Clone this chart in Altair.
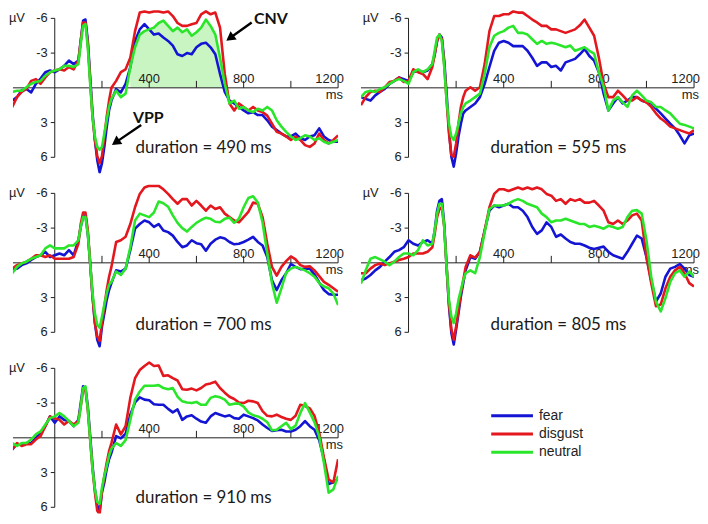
import altair as alt
import pandas as pd

# ---------------- data ----------------
times = [-200, -180, -160, -140, -120, -100, -80, -60, -40, -20,
         0, 20, 40, 60, 80,
         100, 110, 120, 130, 140, 150, 160, 170, 180, 190, 200, 210, 220, 230,
         240, 260, 280, 300, 320, 340, 360, 380,
         400, 420, 440, 460, 480, 500, 520, 540, 560, 580,
         600, 620, 640, 660, 680, 700, 720, 740, 760, 780,
         800, 820, 840, 860, 880, 900, 920, 940, 960, 980,
         1000, 1020, 1040, 1060, 1080, 1100, 1120, 1140, 1160, 1180,
         1200]

emotions = ["fear", "disgust", "neutral"]
legend_rank = [0, 1, 2]
line_colors = ["#1414d4", "#e3171d", "#2ae62a"]
durations = ["duration = 490 ms", "duration = 595 ms", "duration = 700 ms",
             "duration = 805 ms", "duration = 910 ms"]
duration_v = [5.6, 5.6, 5.8, 5.8, 5.65]

x_tick_values = [200, 400, 600, 800, 1000, 1200]
x_label_values = [400, 800]
x_last_label = [1200]
y_tick_values = [-6, -3, 3, 6]
y_unit = "µV"
x_unit = "ms"

p1_fear = [0.95, 1.1, 0.8, 0.2, 0.1, 0.4, -0.35, -0.8, -1.35, -1.5,
           -1.35, -1.6, -1.9, -2.35, -2.05,
           -2.35, -4.05, -5.8, -5.9, -4.05, -0.9, 2.2, 4.5, 6.25, 7.3, 6.5, 5.1, 3.4, 1.95,
           1.1, 0.1, 0.4, -0.35, -1.8, -4.05, -5.05, -5.5,
           -5.05, -4.6, -4.7, -4.35, -4.05, -3.65, -2.9, -2.75, -3.0, -2.9,
           -3.5, -3.8, -3.9, -3.5, -2.9, -1.2, 0.35, 1.1, 1.35, 1.65,
           1.95, 2.2, 2.1, 2.35, 2.35, 2.8, 3.35, 3.65, 3.95, 4.2,
           4.2, 3.95, 4.35, 4.5, 4.2, 4.1, 3.5, 4.2, 4.5, 4.65,
           4.65]
p1_disgust = [1.25, 1.65, 0.8, 0.35, 0.1, -0.6, -0.75, -0.35, -0.9, -1.35,
              -1.5, -1.6, -1.5, -1.8, -1.6,
              -2.35, -4.05, -5.65, -5.65, -3.8, -0.6, 2.5, 4.5, 5.9, 6.5, 5.9, 4.2, 2.5, 1.1,
              0.0, -0.6, -1.35, -1.6, -2.6, -4.9, -6.5, -6.6,
              -6.5, -6.6, -6.6, -6.5, -6.6, -6.2, -5.6, -5.35, -5.35, -5.5,
              -5.6, -6.35, -6.6, -6.35, -6.5, -5.2, -1.2, 1.35, 1.95, 1.35,
              1.65, 1.95, 1.65, 1.95, 2.1, 2.4, 3.1, 3.8, 3.95, 4.2,
              4.5, 4.2, 4.5, 4.95, 5.1, 4.8, 3.95, 4.5, 4.8, 4.5,
              4.1]
p1_neutral = [0.8, 0.35, 0.25, 0.25, -0.05, -0.35, -0.5, -0.6, -1.05, -1.35,
              -1.5, -1.6, -1.9, -1.9, -1.8,
              -2.05, -3.8, -5.35, -5.5, -3.5, -0.35, 2.5, 4.2, 5.1, 5.35, 5.1, 3.95, 2.8, 1.65,
              0.95, 0.25, 0.8, 0.5, -1.8, -3.5, -4.6, -4.9,
              -5.05, -5.2, -5.6, -5.8, -5.35, -4.9, -5.2, -4.8, -5.05, -4.5,
              -4.8, -5.2, -5.9, -5.35, -4.6, -2.6, -0.35, 1.35, 1.1, 1.8,
              1.65, 1.95, 2.1, 1.8, 1.95, 1.65, 1.95, 2.8, 3.35, 3.8,
              4.2, 4.5, 4.35, 4.1, 4.2, 4.5, 4.35, 4.65, 4.8, 4.65,
              4.5]

p2_fear = [0.8, 0.95, 1.1, 0.65, 0.35, 0.1, -0.35, -0.6, -0.9, -0.75,
           -0.6, -1.35, -1.5, -1.35, -1.5,
           -2.05, -2.9, -4.05, -4.6, -4.35, -2.35, 0.5, 3.65, 5.95, 6.8, 5.65, 4.2, 3.1, 2.2,
           1.95, 1.65, 1.35, 0.8, -0.35, -1.8, -3.2, -3.9,
           -4.05, -3.9, -3.6, -3.6, -3.6, -3.2, -2.6, -1.9, -2.2, -2.2,
           -1.8, -1.9, -1.5, -2.2, -2.35, -2.5, -2.9, -3.35, -2.75, -2.35,
           -1.35, 0.5, 1.95, 1.35, 0.8, 1.35, 1.1, 0.8, 0.8, 1.1,
           1.25, 1.35, 1.8, 2.2, 2.65, 3.1, 3.5, 4.1, 4.8, 4.1,
           3.95]
p2_disgust = [1.5, 0.8, 0.35, 0.25, 0.35, -0.05, -0.5, -0.6, -0.9, -0.5,
              -0.6, -1.6, -1.35, -1.2, -0.75,
              -1.8, -2.9, -4.05, -4.6, -4.2, -2.05, 1.1, 3.95, 5.8, 5.95, 4.8, 3.1, 1.65, 0.8,
              0.25, -0.05, 0.25, -0.05, -2.05, -4.9, -6.2, -6.2,
              -6.35, -6.35, -6.6, -6.5, -6.5, -6.2, -5.9, -5.65, -5.35, -5.35,
              -5.05, -5.05, -4.9, -4.75, -4.9, -5.05, -5.4, -5.9, -5.2, -4.5,
              -2.6, -0.35, 0.8, 0.8, 0.25, 0.65, 1.1, 1.1, 0.8, 1.1,
              1.25, 1.65, 2.2, 2.65, 2.95, 3.35, 3.5, 3.65, 3.8, 3.95,
              3.65]
p2_neutral = [0.8, 0.35, 0.25, 0.35, 0.1, -0.05, -0.35, -0.6, -0.75, -0.6,
              -0.35, -1.35, -1.6, -1.35, -1.6,
              -2.05, -3.2, -4.35, -4.6, -4.05, -1.8, 1.1, 3.1, 4.2, 4.5, 3.95, 3.1, 2.2, 1.65,
              1.35, 1.1, 0.8, 0.5, -1.2, -3.5, -4.5, -4.75,
              -4.9, -5.2, -5.35, -4.75, -4.75, -4.6, -4.2, -3.8, -4.05, -3.8,
              -3.9, -3.8, -3.65, -3.5, -3.65, -3.2, -3.35, -3.5, -3.2, -2.95,
              -1.35, -0.1, 1.95, 1.1, 0.8, 1.25, 1.65, 0.65, 0.25, 0.65,
              1.1, 1.25, 1.65, 1.65, 1.95, 2.2, 2.65, 3.1, 3.2, 3.35,
              3.5]

p3_fear = [0.75, 0.65, 0.5, 0.2, 0.05, -0.25, -0.5, -0.65, -0.95, -0.5,
           -0.65, -0.8, -0.65, -1.1, -0.65,
           -1.95, -3.1, -3.95, -4.1, -2.5, 0.05, 2.9, 5.2, 6.65, 7.2, 5.5, 4.35, 3.2, 2.35,
           1.75, 0.65, 0.75, 0.5, -1.1, -2.95, -3.35, -3.65,
           -3.5, -3.1, -3.35, -2.8, -2.65, -2.35, -1.8, -1.35, -1.5, -1.95,
           -1.7, -1.6, -1.05, -1.65, -2.0, -2.2, -2.1, -1.8, -1.6, -1.65,
           -1.8, -2.0, -2.25, -1.8, -1.5, -0.5, 1.5, 2.35, 1.5, 0.9,
           0.1, 0.35, 0.55, 0.5, 0.5, 1.0, 1.7, 2.35, 2.7, 2.75,
           2.75]
p3_disgust = [0.65, 0.5, 0.2, 0.05, -0.1, -0.35, -0.65, -0.65, -0.5, -0.65,
              -0.35, -0.35, -0.35, -0.35, -0.5,
              -1.65, -3.35, -4.35, -4.35, -2.8, 0.05, 2.9, 5.2, 6.35, 6.75, 5.2, 3.75, 2.35, 1.2,
              0.35, -1.8, -1.95, -2.25, -3.35, -4.8, -5.95, -6.5,
              -6.65, -6.65, -6.65, -6.35, -5.95, -5.5, -5.1, -5.5, -5.5, -4.95,
              -5.35, -4.95, -4.5, -4.95, -4.65, -4.8, -4.25, -3.95, -3.65, -3.5,
              -3.95, -4.4, -5.2, -5.1, -3.95, -1.65, 0.35, 1.1, 0.35, -0.15,
              -0.55, -0.3, 0.2, 0.35, 0.3, 0.65, 1.15, 1.65, 1.9, 2.2,
              2.5]
p3_neutral = [1.5, 0.9, 0.35, 0.05, -0.1, -0.35, -0.5, -0.65, -1.25, -1.5,
              -1.25, -1.25, -1.25, -1.5, -1.5,
              -1.95, -3.1, -3.95, -3.95, -2.5, 0.05, 2.65, 4.35, 5.35, 5.6, 4.65, 3.6, 2.65, 1.9,
              1.65, 0.75, 1.05, 0.5, -1.35, -3.65, -4.25, -4.1,
              -3.95, -4.35, -5.3, -5.15, -4.85, -4.1, -3.45, -3.0, -2.7, -3.1,
              -3.45, -3.7, -3.9, -3.8, -3.55, -3.5, -3.8, -3.9, -3.45, -3.8,
              -4.8, -5.6, -5.75, -5.2, -3.5, -0.8, 1.75, 3.45, 2.2, 0.85,
              0.5, 0.35, 0.5, 0.65, 0.9, 1.2, 1.75, 2.05, 2.2, 2.65,
              3.65]

p4_fear = [1.5, 1.35, 1.05, 0.65, 0.35, -0.1, -0.5, -0.95, -1.1, -1.35,
           -1.95, -1.65, -1.5, -1.8, -1.95,
           -1.65, -2.8, -4.5, -5.35, -5.5, -3.35, 0.35, 3.75, 6.05, 7.05, 5.75, 4.35, 2.9, 1.75,
           0.65, -0.5, -0.35, -0.95, -2.8, -4.5, -4.95, -4.8,
           -4.95, -5.1, -4.8, -4.8, -4.5, -3.95, -3.1, -2.5, -2.8, -3.5,
           -3.1, -2.25, -2.45, -2.1, -1.8, -1.65, -1.65, -1.5, -1.3, -1.2,
           -1.3, -1.4, -0.95, -0.65, -0.5, -0.35, -0.95, -1.65, -2.35, -2.1,
           -0.5, 1.5, 3.35, 2.65, 1.2, 0.5, 0.35, 0.1, 0.5, 1.05,
           1.2]
p4_disgust = [0.9, 0.9, 0.5, 0.2, 0.05, 0.2, 0.05, -0.1, -0.25, -0.35,
              -0.5, -0.8, -0.8, -0.8, -0.95,
              -1.35, -2.5, -3.95, -4.65, -4.8, -3.1, 0.35, 3.5, 5.75, 6.65, 5.5, 4.05, 2.65, 1.5,
              0.35, -0.65, -0.45, -0.95, -2.8, -4.8, -5.95, -6.35,
              -6.35, -6.2, -6.35, -6.5, -6.35, -6.5, -6.35, -6.5, -6.35, -5.95,
              -5.8, -5.35, -5.5, -5.1, -5.5, -5.35, -5.5, -5.2, -5.2, -5.35,
              -4.95, -4.5, -3.5, -3.35, -3.65, -3.35, -3.65, -4.1, -4.25, -3.65,
              -0.5, 1.75, 3.75, 3.6, 2.2, 1.2, 0.65, 0.35, 0.9, 1.75,
              2.05]
p4_neutral = [1.8, 0.65, -0.35, -0.5, -0.3, -0.1, 0.2, -0.1, -0.5, -0.8,
              -0.8, -0.65, -1.1, -1.95, -1.5,
              -1.65, -2.8, -4.25, -5.1, -5.1, -3.1, 0.35, 3.2, 4.65, 5.2, 4.35, 3.2, 2.35, 1.5,
              0.9, 0.65, 0.9, -0.5, -2.65, -4.65, -4.95, -4.95,
              -4.95, -5.1, -5.35, -5.5, -5.35, -5.1, -4.95, -4.8, -4.25, -3.95,
              -3.5, -3.65, -3.65, -3.8, -3.65, -3.5, -3.35, -3.35, -3.1, -3.2,
              -3.1, -2.95, -3.2, -3.1, -2.95, -3.1, -3.95, -4.5, -4.55, -4.25,
              -1.95, 1.2, 3.35, 4.2, 3.05, 1.65, 0.9, 0.65, 1.2, 0.75,
              1.2]

p5_fear = [1.15, 1.0, 0.55, 0.55, 0.45, 0.45, 0.0, -0.45, -1.0, -1.85,
           -1.3, -1.85, -1.55, -1.45, -1.0,
           -1.55, -3.0, -4.45, -4.3, -2.7, -0.15, 2.45, 4.45, 5.85, 6.3, 4.7, 3.85, 2.7, 1.85,
           1.3, -0.15, 0.05, -0.35, -2.0, -3.05, -3.5, -3.3,
           -3.25, -2.9, -2.85, -2.85, -2.5, -2.2, -2.45, -1.55, -1.85, -1.95,
           -1.65, -1.4, -1.3, -1.85, -2.15, -2.0, -1.85, -1.95, -1.7, -1.65,
           -2.0, -1.85, -1.7, -1.5, -1.15, -0.85, -0.6, -0.65, -0.7, -0.55,
           -0.55, -0.7, -1.0, -1.45, -1.0, -0.7, 0.2, 1.85, 4.0, 3.85,
           3.55]
p5_disgust = [1.3, 1.0, 0.45, 0.7, 0.55, 0.55, 0.15, -0.15, -1.0, -1.85,
              -1.7, -1.55, -1.15, -1.45, -1.15,
              -1.45, -2.7, -4.15, -4.15, -2.45, 0.15, 2.7, 4.7, 6.3, 6.6, 4.6, 3.3, 2.15, 1.15,
              0.45, -1.15, -0.3, -1.0, -3.45, -5.15, -5.85, -6.2,
              -6.5, -6.2, -6.25, -5.35, -5.4, -5.15, -4.95, -4.2, -4.15, -4.25,
              -4.1, -4.3, -4.6, -4.7, -4.85, -4.3, -3.9, -3.55, -3.35, -3.05,
              -3.0, -3.2, -3.15, -3.0, -2.3, -1.9, -1.85, -2.0, -1.8, -1.65,
              -1.55, -1.9, -2.85, -2.75, -2.55, -1.9, -0.45, 1.7, 3.6, 3.85,
              1.85]
p5_neutral = [0.85, 0.45, 0.7, 0.45, 0.45, 0.15, -0.3, -0.55, -1.15, -1.7,
              -1.85, -2.15, -1.85, -1.45, -1.0,
              -1.3, -2.7, -4.3, -4.45, -2.45, 0.15, 2.7, 4.45, 5.55, 5.7, 4.3, 3.3, 2.45, 1.55,
              0.95, 0.45, 0.7, 0.2, -1.55, -3.3, -4.0, -4.5,
              -4.5, -4.5, -4.55, -4.3, -4.2, -4.3, -3.55, -3.15, -3.05, -3.0,
              -3.1, -2.85, -2.85, -3.45, -3.6, -3.5, -3.3, -2.85, -2.95, -2.95,
              -2.7, -2.2, -1.95, -1.85, -1.65, -1.35, -0.65, -0.7, -1.0, -1.3,
              -0.75, -1.05, -2.15, -3.0, -2.2, -1.35, -0.1, 2.15, 4.75, 4.45,
              3.3]

panels = [
    [p1_fear, p1_disgust, p1_neutral],
    [p2_fear, p2_disgust, p2_neutral],
    [p3_fear, p3_disgust, p3_neutral],
    [p4_fear, p4_disgust, p4_neutral],
    [p5_fear, p5_disgust, p5_neutral],
]
for pn in panels:
    for s in pn:
        assert len(s) == len(times), len(s)

# CNV shaded window (panel 1) and annotations
cnv_window = [320, 720]
annot_text = ["CNV", "VPP"]
annot_t = [915, 396]
annot_v = [-5.55, 3.02]
arrow_tail_t = [834, 366]
arrow_tail_v = [-5.65, 3.2]
arrow_head_t = [742, 258]
arrow_head_v = [-4.3, 4.71]
arrow_angle = [234, 235]

# ---------------- styling ----------------
PX_PER_UV = 11.645
Y_TOP = -6.77
H_MAIN = 165
H_LAST = 155
AXIS_COLOR = "#1e1e1e"
LABEL_COLOR = "#222222"
FONT = "Liberation Sans"
FONT2 = "Lato"


def make_panel(series, dur_text, dur_v, left, height, annotate=False):
    xdom = [-177, 1200] if left else [-200, 1200]
    width = 327 if left else 335
    px_per_ms = width / (xdom[1] - xdom[0])
    ydom = [Y_TOP, Y_TOP + height / PX_PER_UV]
    xs = alt.Scale(domain=xdom, nice=False, zero=False)
    ys = alt.Scale(domain=ydom, reverse=True, nice=False, zero=False)

    def X():
        return alt.X("t:Q", scale=xs, axis=None)

    def Y():
        return alt.Y("v:Q", scale=ys, axis=None)

    layers = []
    if annotate:
        g = pd.DataFrame({"t": times, "v": series[2]})
        g = g[(g.t >= cnv_window[0]) & (g.t <= cnv_window[1])].copy()
        g["zero"] = 0.0
        layers.append(alt.Chart(g).mark_area(color="#c8f5c2", clip=True)
                      .encode(x=X(), y=Y(), y2="zero:Q"))

    # x axis line, ticks pointing up, labels above
    xa = pd.DataFrame({"t": [xdom[0]], "t2": [x_tick_values[-1]], "v": [0.0]})
    layers.append(alt.Chart(xa).mark_rule(color=AXIS_COLOR, strokeWidth=1)
                  .encode(x=X(), x2="t2:Q", y=Y()))
    xt = pd.DataFrame({"t": x_tick_values, "v": 0.0, "v2": -7 / PX_PER_UV})
    layers.append(alt.Chart(xt).mark_rule(color=AXIS_COLOR, strokeWidth=1)
                  .encode(x=X(), y=Y(), y2="v2:Q"))
    xl = pd.DataFrame({"t": x_label_values, "v": 0.0, "label": [str(v) for v in x_label_values]})
    layers.append(alt.Chart(xl).mark_text(align="center", baseline="alphabetic", dy=-5,
                                          font=FONT, fontSize=13, color=LABEL_COLOR)
                  .encode(x=X(), y=Y(), text="label:N"))
    xl2 = pd.DataFrame({"t": x_last_label, "v": 0.0, "label": [str(v) for v in x_last_label]})
    layers.append(alt.Chart(xl2).mark_text(align="right", baseline="alphabetic", dx=6, dy=-5,
                                           font=FONT, fontSize=13, color=LABEL_COLOR)
                  .encode(x=X(), y=Y(), text="label:N"))
    ms = pd.DataFrame({"t": [x_tick_values[-1]], "v": [0.0], "label": [x_unit]})
    layers.append(alt.Chart(ms).mark_text(align="right", baseline="alphabetic", dx=5, dy=11,
                                          font=FONT, fontSize=13, color=LABEL_COLOR)
                  .encode(x=X(), y=Y(), text="label:N"))

    # y axis line at t = 0, ticks to the left, labels
    ya = pd.DataFrame({"t": [0], "v": [y_tick_values[0]], "v2": [y_tick_values[-1]]})
    layers.append(alt.Chart(ya).mark_rule(color=AXIS_COLOR, strokeWidth=1)
                  .encode(x=X(), y=Y(), y2="v2:Q"))
    yt = pd.DataFrame({"t": 0.0, "t2": -4 / px_per_ms, "v": y_tick_values})
    layers.append(alt.Chart(yt).mark_rule(color=AXIS_COLOR, strokeWidth=1)
                  .encode(x=X(), x2="t2:Q", y=Y()))
    yl = pd.DataFrame({"t": 0.0, "v": y_tick_values, "label": [str(v) for v in y_tick_values]})
    layers.append(alt.Chart(yl).mark_text(align="right", baseline="middle", dx=-7,
                                          font=FONT, fontSize=13, color=LABEL_COLOR)
                  .encode(x=X(), y=Y(), text="label:N"))
    uv = pd.DataFrame({"t": [0.0], "v": [y_tick_values[0]], "label": [y_unit]})
    layers.append(alt.Chart(uv).mark_text(align="right", baseline="middle", dx=-30,
                                          font=FONT, fontSize=13, color=LABEL_COLOR)
                  .encode(x=X(), y=Y(), text="label:N"))

    # ERP waveforms
    for vals, col in zip(series, line_colors):
        df = pd.DataFrame({"t": times, "v": vals})
        layers.append(alt.Chart(df).mark_line(color=col, strokeWidth=2.6, clip=True,
                                              strokeJoin="round")
                      .encode(x=X(), y=Y()))

    dur = pd.DataFrame({"t": [630], "v": [dur_v], "label": [dur_text]})
    layers.append(alt.Chart(dur).mark_text(align="center", baseline="alphabetic",
                                           font=FONT2, fontSize=17, color="#1a1a1a")
                  .encode(x=X(), y=Y(), text="label:N"))
    if annotate:
        ar = pd.DataFrame({"t": arrow_tail_t, "v": arrow_tail_v,
                           "t2": arrow_head_t, "v2": arrow_head_v})
        layers.append(alt.Chart(ar).mark_rule(color="black", strokeWidth=2.4)
                      .encode(x=X(), y=Y(), x2="t2:Q", y2="v2:Q"))
        hd = pd.DataFrame({"t": arrow_head_t, "v": arrow_head_v, "angle": arrow_angle})
        layers.append(alt.Chart(hd).mark_point(shape="triangle-up", filled=True, size=110,
                                               color="black", opacity=1)
                      .encode(x=X(), y=Y(), angle=alt.Angle("angle:Q", scale=None)))
        tx = pd.DataFrame({"t": annot_t, "v": annot_v, "label": annot_text})
        layers.append(alt.Chart(tx).mark_text(align="center", baseline="alphabetic",
                                              font=FONT2, fontWeight="bold", fontSize=16,
                                              color="#111111")
                      .encode(x=X(), y=Y(), text="label:N"))
    return alt.layer(*layers).properties(width=width, height=height)


p1 = make_panel(panels[0], durations[0], duration_v[0], True, H_MAIN, annotate=True)
p2 = make_panel(panels[1], durations[1], duration_v[1], False, H_MAIN)
p3 = make_panel(panels[2], durations[2], duration_v[2], True, H_MAIN)
p4 = make_panel(panels[3], durations[3], duration_v[3], False, H_MAIN)
p5 = make_panel(panels[4], durations[4], duration_v[4], True, H_LAST)

# legend cell (rows placed through a linear scale on the rank)
leg_df = pd.DataFrame({"emotion": emotions, "rank": legend_rank})
leg_y = alt.Y("rank:Q", scale=alt.Scale(domain=[0, 2], range=[56.7, 93.3], nice=False,
                                        zero=False), axis=None)
leg_lines = alt.Chart(leg_df).mark_rule(strokeWidth=3).encode(
    y=leg_y, x=alt.value(131), x2=alt.value(173),
    color=alt.Color("emotion:N", scale=alt.Scale(domain=emotions, range=line_colors),
                    legend=None))
leg_text = alt.Chart(leg_df).mark_text(align="left", baseline="middle", font=FONT,
                                       fontSize=14, color=LABEL_COLOR).encode(
    y=leg_y, x=alt.value(179), text="emotion:N")
legend = alt.layer(leg_lines, leg_text).properties(width=335, height=H_LAST)

chart = alt.concat(p1, p2, p3, p4, p5, legend, columns=2,
                   spacing={"row": 11, "column": 23}, bounds="flush",
                   align="each").properties(padding=0).configure_view(stroke=None)

chart.save("out.html", embed_options={"renderer": "svg", "actions": False})
